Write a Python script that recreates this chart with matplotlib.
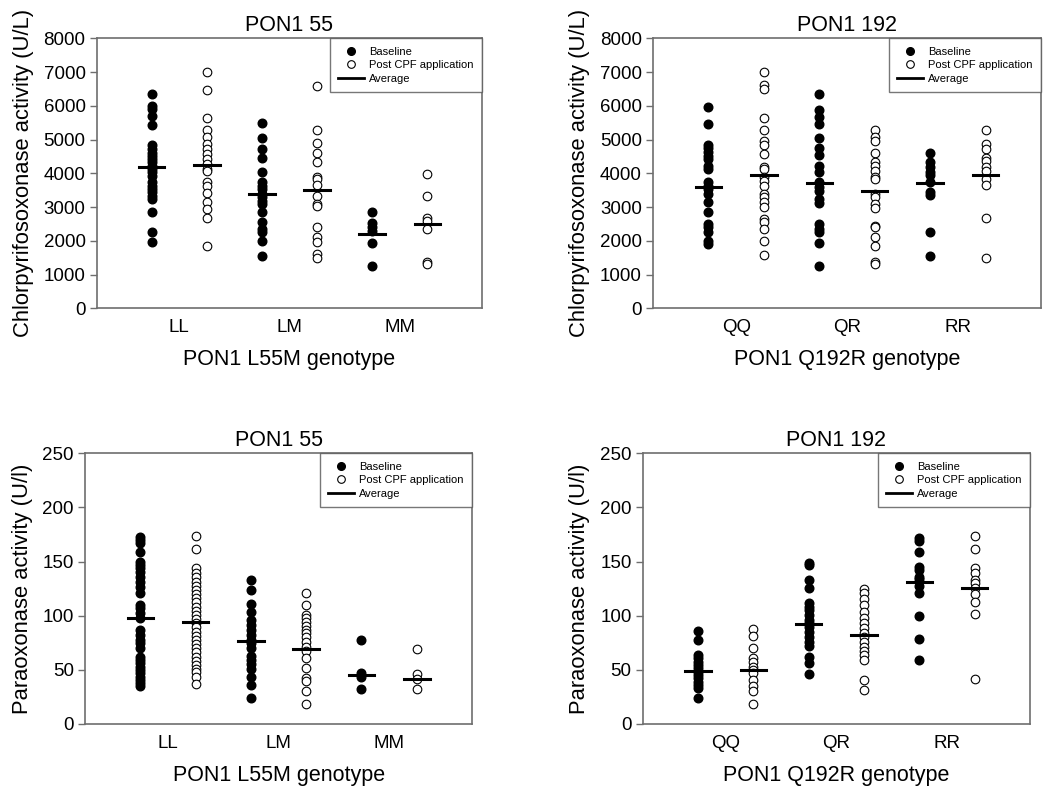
import matplotlib
matplotlib.use("Agg")
import matplotlib.pyplot as plt
from matplotlib.lines import Line2D

matplotlib.rcParams['font.family'] = ['Liberation Sans', 'DejaVu Sans']

# ----------------------------------------------------------------
# Data
# ----------------------------------------------------------------
genotypes_55 = ["LL", "LM", "MM"]
genotypes_192 = ["QQ", "QR", "RR"]

# Chlorpyrifosoxonase activity, PON1 55
cpo55_base = [
    [6341, 5986, 5897, 5700, 5424, 4832, 4714, 4615, 4517, 4418, 4320, 4221,
     4122, 4024, 3925, 3728, 3629, 3531, 3432, 3333, 3235, 2840, 2249, 1953],
    [5483, 5039, 4714, 4448, 4024, 3728, 3629, 3531, 3383, 3284, 3185, 3087,
     2840, 2544, 2347, 2249, 2002, 1558],
    [2840, 2515, 2396, 2298, 1933, 1262],
]
cpo55_post = [
    [7012, 6479, 5631, 5276, 5079, 4882, 4714, 4566, 4418, 4270, 4122, 4073,
     3728, 3629, 3402, 3136, 2939, 2663, 1834],
    [6588, 5296, 4911, 4615, 4320, 3876, 3826, 3659, 3314, 3087, 3018, 2396,
     2120, 1972, 1607, 1479],
    [3974, 3314, 2663, 2574, 2347, 1381, 1312],
]
cpo55_avg_base = [4201, 3393, 2189]
cpo55_avg_post = [4250, 3491, 2495]

# Chlorpyrifosoxonase activity, PON1 192
cpo192_base = [
    [5966, 5473, 4842, 4744, 4645, 4517, 4418, 4221, 4122, 3728, 3629, 3531,
     3383, 3136, 2840, 2495, 2396, 2249, 2002, 1903],
    [6341, 5868, 5671, 5454, 5039, 4744, 4546, 4221, 4024, 3728, 3580, 3481,
     3235, 3116, 2495, 2347, 2249, 1933, 1262],
    [4615, 4320, 4172, 4024, 3955, 3728, 3432, 3353, 2249, 1558],
]
cpo192_post = [
    [7012, 6617, 6489, 5631, 5286, 4961, 4842, 4586, 4172, 4122, 3876, 3777,
     3629, 3383, 3284, 3136, 2988, 2643, 2544, 2347, 1982, 1578],
    [5276, 5079, 4961, 4615, 4320, 4221, 4073, 3876, 3826, 3383, 3284, 3087,
     2959, 2446, 2396, 2120, 1834, 1381, 1312],
    [5286, 4882, 4714, 4448, 4369, 4172, 4073, 3826, 3659, 2663, 1479],
]
cpo192_avg_base = [3600, 3708, 3708]
cpo192_avg_post = [3955, 3481, 3945]

# Paraoxonase activity, PON1 55
pon55_base = [
    [172.4, 170.0, 166.9, 159.2, 149.9, 146.9, 143.8, 140.7, 136.1, 131.5,
     126.8, 120.7, 109.9, 106.8, 102.2, 97.6, 86.8, 82.2, 77.6, 74.5, 69.9,
     62.2, 59.1, 56.0, 53.0, 49.9, 46.8, 43.7, 40.6, 37.6, 35.4],
    [133.0, 123.8, 110.8, 103.8, 96.1, 91.4, 86.8, 82.2, 77.6, 74.5, 69.9,
     62.8, 59.1, 55.4, 50.5, 43.7, 36.0, 23.7],
    [77.6, 47.4, 43.7, 32.0],
]
pon55_post = [
    [173.6, 161.9, 143.8, 139.8, 135.5, 131.5, 127.8, 123.8, 120.1, 116.1,
     112.4, 108.4, 104.7, 100.7, 97.0, 93.0, 89.3, 85.3, 81.6, 77.6, 73.9,
     69.9, 66.2, 62.2, 58.5, 54.5, 50.8, 47.7, 43.7, 36.6],
    [120.7, 109.9, 100.7, 97.6, 94.5, 90.5, 86.8, 84.4, 80.7, 76.0, 71.4,
     67.7, 60.7, 51.4, 42.2, 40.0, 30.8, 18.2],
    [69.0, 45.9, 41.3, 32.0],
]
pon55_avg_base = [98.2, 76.7, 45.0]
pon55_avg_post = [93.9, 69.3, 41.6]

# Paraoxonase activity, PON1 192
pon192_base = [
    [85.9, 77.3, 63.7, 60.7, 57.6, 54.5, 51.4, 48.3, 45.3, 42.2, 39.1, 36.0,
     32.9, 23.7],
    [148.4, 146.9, 133.0, 125.3, 111.5, 108.4, 105.3, 100.7, 96.1, 93.0, 89.9,
     85.3, 80.7, 76.0, 72.0, 62.2, 56.7, 45.9],
    [171.5, 169.0, 159.2, 144.7, 142.2, 136.1, 133.6, 127.8, 120.7, 100.1,
     78.2, 59.1],
]
pon192_post = [
    [87.4, 81.3, 70.5, 60.7, 57.6, 53.0, 49.9, 46.8, 40.6, 35.1, 30.5, 18.2],
    [124.7, 120.7, 115.5, 109.9, 103.8, 97.6, 93.0, 88.4, 83.7, 80.0, 75.4,
     71.4, 67.7, 63.7, 59.1, 40.6, 31.4],
    [173.6, 161.9, 143.8, 139.2, 133.0, 129.9, 125.3, 119.8, 112.4, 101.3,
     41.9],
]
pon192_avg_base = [49.0, 92.4, 131.5]
pon192_avg_post = [49.9, 82.2, 125.3]

AXIS_GREY = '#6e6e6e'


def draw_panel(ax, base, post, avg_base, avg_post, labels, title, xlabel,
               ylabel, ymax, ystep):
    for i in range(len(labels)):
        xb = 1 + 2 * i
        xp = 2 + 2 * i
        ax.plot([xb] * len(base[i]), base[i], 'o', color='black',
                markersize=6.2, zorder=3)
        ax.plot([xp] * len(post[i]), post[i], 'o', markerfacecolor='white',
                markeredgecolor='black', markeredgewidth=0.8,
                markersize=6.2, zorder=3)
        ax.plot([xb - 0.23, xb + 0.23], [avg_base[i]] * 2, '-',
                color='black', linewidth=2.2, zorder=4)
        ax.plot([xp - 0.23, xp + 0.23], [avg_post[i]] * 2, '-',
                color='black', linewidth=2.2, zorder=4)

    ax.set_xlim(0, 7)
    ax.set_ylim(0, ymax)
    ax.set_yticks(range(0, ymax + 1, ystep))
    ax.set_xticks([1.5, 3.5, 5.5])
    ax.set_xticklabels(labels)
    ax.tick_params(axis='x', length=0, pad=8, labelsize=13.5)
    ax.tick_params(axis='y', length=5, width=1, color=AXIS_GREY,
                   labelsize=13.5, pad=3)
    for s in ax.spines.values():
        s.set_color(AXIS_GREY)
        s.set_linewidth(1.2)
    ax.set_title(title, fontsize=15.5, pad=5)
    ax.set_xlabel(xlabel, fontsize=15.5, labelpad=9)
    ax.set_ylabel(ylabel, fontsize=15.8, labelpad=7)

    handles = [
        Line2D([], [], marker='o', linestyle='none', color='black',
               markersize=5.5),
        Line2D([], [], marker='o', linestyle='none', markerfacecolor='white',
               markeredgecolor='black', markeredgewidth=0.8, markersize=5.5),
        Line2D([], [], color='black', linewidth=2),
    ]
    leg = ax.legend(handles, ['Baseline', 'Post CPF application', 'Average'],
                    loc='upper right', bbox_to_anchor=(1.0, 1.0),
                    borderaxespad=0, frameon=True, fancybox=False,
                    fontsize=8, handlelength=2.3, handletextpad=0.5,
                    labelspacing=0.32, borderpad=0.75)
    leg.get_frame().set_edgecolor('#555555')
    leg.get_frame().set_linewidth(1.0)


fig = plt.figure(figsize=(10.5, 7.94), dpi=100)

ax1 = fig.add_axes([0.0921, 0.6117, 0.3672, 0.3401])
ax2 = fig.add_axes([0.6219, 0.6117, 0.3695, 0.3401])
ax3 = fig.add_axes([0.0810, 0.0882, 0.3686, 0.3409])
ax4 = fig.add_axes([0.6121, 0.0882, 0.3689, 0.3409])

draw_panel(ax1, cpo55_base, cpo55_post, cpo55_avg_base, cpo55_avg_post,
           genotypes_55, 'PON1 55', 'PON1 L55M genotype',
           'Chlorpyrifosoxonase activity (U/L)', 8000, 1000)
draw_panel(ax2, cpo192_base, cpo192_post, cpo192_avg_base, cpo192_avg_post,
           genotypes_192, 'PON1 192', 'PON1 Q192R genotype',
           'Chlorpyrifosoxonase activity (U/L)', 8000, 1000)
draw_panel(ax3, pon55_base, pon55_post, pon55_avg_base, pon55_avg_post,
           genotypes_55, 'PON1 55', 'PON1 L55M genotype',
           'Paraoxonase activity (U/l)', 250, 50)
draw_panel(ax4, pon192_base, pon192_post, pon192_avg_base, pon192_avg_post,
           genotypes_192, 'PON1 192', 'PON1 Q192R genotype',
           'Paraoxonase activity (U/l)', 250, 50)

plt.savefig('out.png', dpi=100)
